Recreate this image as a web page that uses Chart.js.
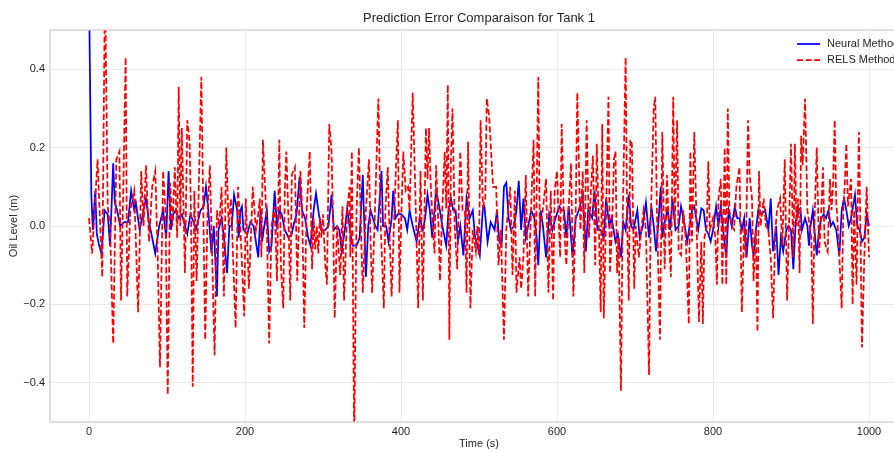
<!DOCTYPE html>
<html><head><meta charset="utf-8">
<script src="https://cdn.jsdelivr.net/npm/chart.js@4.4.1/dist/chart.umd.min.js"></script>
<style>
html,body{margin:0;padding:0;background:#fff;overflow:hidden;width:894px;height:452px}
#wrap{position:absolute;left:0;top:0;width:958px;height:452px}
</style></head><body><div id="wrap"><canvas id="c" width="958" height="452"></canvas></div>
<script>
const chartTitle = 'Prediction Error Comparaison for Tank 1';
const xLabel = 'Time (s)';
const yLabel = 'Oil Level (m)';
const seriesNames = ['Neural Method', 'RELS Method'];
const xTicks = [0, 200, 400, 600, 800, 1000];
const yTicks = [-0.4, -0.2, 0, 0.2, 0.4];

const relsTime = [
 0,4,11,17,20.5,24,27,31,35,39,41,44,47,49,53,58,63,67,70,73,77,81,85,88,91,95,98,101,104,
 107,110,113,115,117,119,123,126,129,131,133,135,138,144,149,152,155,161,164,167,170,173,176,179,182,188,191,194,199,201,205,210,214,217,
 219,221,223,228,231,234,238,241,244,246,249,251,253,256,258,260,264,267,271,273,276,279,283,286,288,290,292,294,296,298,300,303,305,308,311,313,315,318,322,325,327,331,334,
 335,337,340,343,346,349,351,355,359,361,363,366,371,374,378,380,383,385,388,392,396,398,400,403,406,409,411,415,419,422,425,428,432,434,436,438,441,443,445,
 448,450,453,456,458,460,462,464,466,469,472,476,479,482,484,486,489,492,496,498,500,502,505,508,510,513,518,522,525,528,532,535,540,543,546,548,552,554,557,560,
 563,566,570,572,576,578,582,586,589,592,595,597,600,604,606,609,612,615,618,621,624,626,630,633,635,638,641,643,646,649,651,654,656,658,660,663,666,668,671,673,
 675,677,679,682,684,688,690,692,694,696,699,701,705,708,711,714,718,720,724,726,728,732,735,738,741,744,746,749,751,754,756,759,762,765,769,771,773,776,779,782,785,
 787,789,792,794,796,800,803,805,807,810,812,815,817,819,821,824,827,830,834,837,840,842,845,847,850,852,855,857,859,861,865,868,871,874,877,880,882,886,889,892,895,
 898,900,903,905,907,909,911,913,915,918,921,924,926,928,930,933,936,938,941,943,947,950,952,954,956,958,960,962,965,967,969,971,973,977,979,981,984,987,989,991,994,997,1000
];
const relsError = [
 0.02,-0.07,0.17,-0.13,0.62,0.05,0.0,-0.30,0.17,0.19,-0.19,0.10,0.43,-0.18,0.04,0.09,-0.22,0.14,0.0,0.155,-0.04,0.10,0.14,-0.07,-0.36,0.14,0.04,-0.43,0.11,
 0.0,0.15,-0.03,0.355,0.0,0.25,-0.12,0.27,0.215,0.0,-0.41,0.09,-0.14,0.38,-0.29,0.04,0.155,-0.33,0.04,0.0,0.10,-0.18,0.20,0.0,0.07,-0.26,0.10,0.0,-0.23,0.07,-0.16,0.10,-0.01,0.03,
 0.07,-0.08,0.22,0.0,-0.30,0.0,0.05,-0.14,0.22,-0.10,-0.21,0.09,0.19,0.0,-0.19,0.13,0.15,-0.14,0.14,0.06,-0.26,0.04,0.19,-0.11,0.02,-0.06,0.0,-0.07,0.02,-0.03,0.03,-0.10,-0.15,0.26,0.19,0.0,-0.235,0.0,-0.125,0.05,-0.19,0.04,0.10,
 -0.08,0.19,-0.55,0.04,0.20,-0.03,-0.17,0.04,0.17,-0.04,-0.17,0.0,0.325,0.0,-0.21,0.04,0.15,0.0,-0.18,0.07,0.27,-0.17,0.0,0.19,0.09,0.10,0.04,0.34,0.04,-0.21,0.14,-0.19,0.25,0.12,0.25,0.11,-0.01,-0.07,0.155,
 0.0,-0.14,0.045,0.19,0.045,0.36,-0.29,0.17,0.30,-0.01,-0.11,0.19,0.04,0.04,-0.17,0.215,-0.21,-0.01,-0.065,0.0,-0.074,0.27,0.05,0.07,0.325,0.28,0.10,0.10,-0.10,-0.01,-0.29,-0.01,0.10,-0.125,0.09,-0.17,-0.08,-0.16,-0.08,0.13,
 -0.18,0.0,0.22,-0.18,0.38,-0.01,0.045,0.12,-0.17,0.09,-0.19,0.09,0.14,-0.08,0.26,0.0,-0.10,0.05,0.16,-0.18,0.04,0.34,-0.01,0.14,-0.12,0.27,-0.03,0.07,0.18,-0.10,0.21,-0.03,-0.22,0.26,-0.235,0.04,0.33,-0.12,0.02,0.17,
 0.19,-0.12,-0.03,-0.42,-0.01,0.43,0.0,-0.19,0.22,0.21,-0.16,0.0,-0.08,-0.01,0.04,-0.01,-0.38,0.0,0.30,0.33,0.04,-0.29,0.24,-0.11,0.13,-0.05,-0.13,0.33,0.0,0.27,-0.065,-0.074,0.04,-0.03,-0.25,0.19,-0.04,0.24,0.0,-0.245,-0.04,
 -0.25,-0.03,0.0,0.165,-0.01,0.02,-0.03,-0.15,0.07,0.12,-0.15,0.20,-0.15,0.30,0.04,0.0,-0.01,0.10,0.15,-0.22,0.0,-0.08,0.27,0.13,0.07,-0.14,-0.01,-0.27,0.14,0.0,0.07,0.0,-0.01,-0.08,-0.235,-0.01,0.04,0.07,-0.05,0.17,-0.19,
 0.04,0.21,-0.08,0.21,0.0,0.07,-0.12,0.23,0.155,0.325,0.04,0.0,-0.03,-0.25,0.0,0.20,-0.07,0.0,0.15,-0.04,-0.065,0.12,0.04,0.11,0.27,0.06,0.0,-0.08,-0.21,0.04,0.11,0.21,0.05,0.12,-0.20,0.04,-0.15,0.24,-0.01,-0.31,-0.08,0.10,-0.08
];

const neuralTime = [
 0,3,5,8,10,13,16,20,24,27,31,33,36,40,45,50,54,58,60,65,70,73,77,81,85,90,95,99,102,105,
 108,111,115,119,123,126,130,134,137,143,147,150,153,157,160,164,166,170,173,177,180,183,186,190,192,194,196,198,203,207,211,217,220,
 222,224,228,231,234,238,241,244,247,251,256,260,262,266,270,273,277,281,284,288,291,294,298,303,307,311,314,318,321,324,328,331,
 334,336,338,343,347,351,355,358,361,364,367,370,375,377,381,384,388,390,393,396,400,405,408,411,415,420,424,428,431,434,437,440,
 445,449,453,458,461,464,467,470,473,476,480,484,488,492,495,498,501,505,507,511,515,520,523,526,529,532,535,538,541,545,548,551,554,557,560,
 564,567,571,574,576,579,582,586,590,594,598,603,606,609,612,615,620,624,628,633,637,640,645,648,652,656,660,663,667,670,
 675,678,682,685,688,692,695,698,703,706,710,714,718,721,724,727,730,733,735,739,742,745,748,752,756,759,762,767,770,773,776,781,785,
 788,791,794,797,800,804,807,810,813,817,820,824,828,831,834,837,840,843,847,850,852,855,858,862,867,871,874,877,881,884,887,890,894,897,
 900,903,906,909,912,914,918,921,923,925,928,930,933,936,939,942,945,948,951,954,958,962,965,968,971,974,977,982,985,988,991,994,997,1000
];
const neuralError = [
 0.6,0.08,-0.01,0.09,-0.02,-0.05,-0.07,0.04,0.03,-0.05,0.16,0.06,0.04,0.0,0.01,0.01,0.09,0.04,0.06,-0.01,0.04,0.07,0.01,-0.03,-0.07,0.0,0.04,-0.03,0.14,-0.01,
 0.03,0.04,0.02,0.03,0.0,-0.02,0.03,0.01,-0.01,0.04,0.05,0.10,0.04,-0.07,0.0,-0.18,-0.01,0.02,-0.03,-0.12,0.0,0.0,0.08,0.04,-0.03,0.04,0.05,-0.01,-0.02,0.01,0.0,-0.08,0.04,
 -0.04,-0.01,0.04,-0.065,-0.05,0.09,0.0,0.04,0.03,-0.01,-0.03,-0.02,0.0,0.03,0.125,0.04,0.02,-0.03,-0.05,0.04,0.083,0.04,-0.01,-0.01,0.0,0.08,-0.01,0.0,-0.01,-0.065,-0.01,0.045,
 0.0,-0.03,-0.05,-0.05,-0.03,0.13,-0.13,0.0,0.04,0.02,0.0,-0.01,0.14,0.0,0.0,-0.04,0.02,0.09,0.02,0.03,0.03,0.02,-0.01,0.04,0.0,-0.04,0.02,-0.01,0.02,0.08,0.04,-0.03,
 0.09,0.05,0.0,-0.05,0.04,0.07,0.04,0.04,-0.04,0.0,-0.075,0.07,0.02,0.04,-0.03,-0.05,-0.075,0.045,0.05,-0.04,0.01,-0.01,0.04,-0.04,-0.05,0.10,0.11,0.02,-0.01,0.0,0.04,0.115,-0.01,0.07,-0.03,
 0.01,0.04,0.02,-0.03,-0.10,0.04,0.0,-0.08,0.03,-0.01,0.02,0.05,0.04,0.04,-0.03,0.05,-0.08,0.02,0.04,0.08,-0.065,0.04,0.02,0.09,-0.01,-0.01,-0.03,0.07,0.0,0.02,
 -0.04,-0.02,-0.08,0.01,-0.01,0.08,0.0,-0.01,0.04,-0.03,0.0,0.06,-0.03,0.05,0.0,-0.065,0.01,0.10,-0.03,0.02,0.04,-0.01,0.07,-0.01,0.0,0.05,0.02,-0.04,0.0,0.04,0.05,-0.01,0.045,
 0.04,-0.01,-0.02,-0.04,-0.01,0.05,0.0,0.05,-0.01,-0.08,0.04,0.0,0.05,0.02,0.02,-0.01,0.02,-0.08,0.02,-0.05,-0.075,-0.01,0.04,0.03,0.04,-0.01,0.07,-0.065,0.0,-0.125,-0.03,-0.065,-0.01,0.0,
 -0.01,-0.11,0.01,0.04,0.045,-0.01,0.02,0.0,-0.05,0.0,0.04,-0.01,-0.075,-0.01,0.02,0.03,0.02,0.04,0.0,0.01,-0.01,-0.075,0.04,0.07,0.04,0.0,0.02,0.08,0.0,-0.01,-0.04,-0.03,0.03,0.0
];

function toPoints(ts, vs) {
  const n = Math.min(ts.length, vs.length);
  const out = [];
  for (let i = 0; i < n; i++) out.push({x: ts[i], y: vs[i]});
  return out;
}

const FONT = "'Liberation Sans', Arial, sans-serif";
const TXT = '#262626';
const GRID = '#ebebeb';
const SPINE = '#cccccc';
const NEURAL_COLOR = '#0000ff';
const RELS_COLOR = '#ff0000';
const LINE_W = 1.75;
const RELS_DASH = [6, 2.6];

const decor = {
  id: 'decor',
  beforeDraw(chart) {
    const ctx = chart.ctx;
    ctx.save();
    ctx.fillStyle = '#ffffff';
    ctx.fillRect(0, 0, chart.width, chart.height);
    ctx.restore();
  },
  afterDraw(chart) {
    const ctx = chart.ctx, a = chart.chartArea;
    ctx.save();
    ctx.strokeStyle = SPINE;
    ctx.lineWidth = 1.25;
    ctx.strokeRect(a.left, a.top, a.right - a.left, a.bottom - a.top);
    ctx.fillStyle = TXT;
    ctx.font = '13px ' + FONT;
    ctx.textAlign = 'center';
    ctx.textBaseline = 'middle';
    ctx.fillText(chartTitle, (a.left + a.right) / 2, 18.5);
    const lx = a.right - 111;
    const rows = [
      {name: seriesNames[0], color: NEURAL_COLOR, dash: []},
      {name: seriesNames[1], color: RELS_COLOR, dash: RELS_DASH}
    ];
    ctx.font = '11px ' + FONT;
    ctx.textAlign = 'left';
    rows.forEach((r, i) => {
      const y = a.top + 14 + i * 16;
      ctx.beginPath();
      ctx.setLineDash(r.dash);
      ctx.strokeStyle = r.color;
      ctx.lineWidth = LINE_W;
      ctx.moveTo(lx, y);
      ctx.lineTo(lx + 23, y);
      ctx.stroke();
      ctx.setLineDash([]);
      ctx.fillStyle = TXT;
      ctx.fillText(r.name, lx + 30, y);
    });
    ctx.restore();
  }
};

new Chart(document.getElementById('c'), {
  type: 'line',
  data: {
    datasets: [
      {
        label: seriesNames[0],
        data: toPoints(neuralTime, neuralError),
        borderColor: NEURAL_COLOR,
        borderWidth: LINE_W,
        pointRadius: 0,
        tension: 0,
        fill: false,
        order: 2
      },
      {
        label: seriesNames[1],
        data: toPoints(relsTime, relsError),
        borderColor: RELS_COLOR,
        borderWidth: LINE_W,
        borderDash: RELS_DASH,
        pointRadius: 0,
        tension: 0,
        fill: false,
        order: 1
      }
    ]
  },
  options: {
    responsive: false,
    animation: false,
    devicePixelRatio: 1,
    layout: {padding: {top: 30, right: 50, bottom: 0, left: 0}},
    plugins: {legend: {display: false}, tooltip: {enabled: false}, title: {display: false}},
    scales: {
      x: {
        type: 'linear',
        min: -50, max: 1050,
        afterBuildTicks: s => { s.ticks = xTicks.map(v => ({value: v})); },
        afterFit: s => { s.height = 30; },
        grid: {color: GRID, lineWidth: 1, drawTicks: false},
        border: {display: false},
        ticks: {padding: 3, color: TXT, font: {family: FONT, size: 11}, maxRotation: 0, autoSkip: false,
          callback: v => String(v)},
        title: {display: true, text: xLabel, color: TXT, font: {family: FONT, size: 11}, padding: {top: 0, bottom: 1.5}}
      },
      y: {
        type: 'linear',
        min: -0.5, max: 0.5,
        afterBuildTicks: s => { s.ticks = yTicks.map(v => ({value: v})); },
        afterFit: s => { s.width = 50; },
        grid: {color: GRID, lineWidth: 1, drawTicks: false},
        border: {display: false},
        ticks: {padding: 5, color: TXT, font: {family: FONT, size: 11},
          callback: v => (v < -1e-9 ? '\u2212' : '') + Math.abs(v).toFixed(1)},
        title: {display: true, text: yLabel, color: TXT, font: {family: FONT, size: 11}, padding: {top: 7.5, bottom: 0}}
      }
    }
  },
  plugins: [decor]
});
</script>
</body></html>
